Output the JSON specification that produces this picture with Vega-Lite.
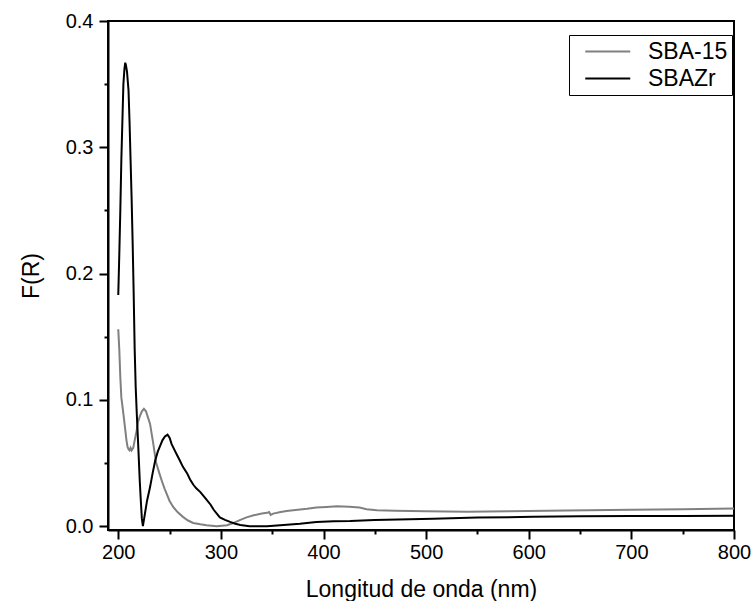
{
  "$schema": "https://vega.github.io/schema/vega-lite/v6.json",
  "width": 626,
  "height": 509,
  "autosize": {"type": "none"},
  "padding": {"left": 108, "top": 21, "right": 17, "bottom": 71},
  "background": "white",
  "config": {
    "font": "Liberation Sans",
    "view": {"stroke": "black", "strokeWidth": 2}
  },
  "data": {
    "values": [
      {"series": "SBA-15", "wl": 200, "fr": 0.156},
      {"series": "SBA-15", "wl": 201, "fr": 0.14},
      {"series": "SBA-15", "wl": 202, "fr": 0.118},
      {"series": "SBA-15", "wl": 203, "fr": 0.102},
      {"series": "SBA-15", "wl": 205, "fr": 0.089},
      {"series": "SBA-15", "wl": 207, "fr": 0.075},
      {"series": "SBA-15", "wl": 208, "fr": 0.068},
      {"series": "SBA-15", "wl": 209, "fr": 0.063},
      {"series": "SBA-15", "wl": 210, "fr": 0.061},
      {"series": "SBA-15", "wl": 211, "fr": 0.060},
      {"series": "SBA-15", "wl": 212, "fr": 0.062},
      {"series": "SBA-15", "wl": 213, "fr": 0.060},
      {"series": "SBA-15", "wl": 214.6, "fr": 0.062},
      {"series": "SBA-15", "wl": 216, "fr": 0.068},
      {"series": "SBA-15", "wl": 218, "fr": 0.076},
      {"series": "SBA-15", "wl": 219, "fr": 0.082},
      {"series": "SBA-15", "wl": 221, "fr": 0.087},
      {"series": "SBA-15", "wl": 223, "fr": 0.091},
      {"series": "SBA-15", "wl": 225, "fr": 0.093},
      {"series": "SBA-15", "wl": 227, "fr": 0.091},
      {"series": "SBA-15", "wl": 229, "fr": 0.086},
      {"series": "SBA-15", "wl": 231, "fr": 0.081},
      {"series": "SBA-15", "wl": 233, "fr": 0.071},
      {"series": "SBA-15", "wl": 234, "fr": 0.066},
      {"series": "SBA-15", "wl": 236, "fr": 0.055},
      {"series": "SBA-15", "wl": 237, "fr": 0.050},
      {"series": "SBA-15", "wl": 240, "fr": 0.042},
      {"series": "SBA-15", "wl": 242, "fr": 0.037},
      {"series": "SBA-15", "wl": 245, "fr": 0.030},
      {"series": "SBA-15", "wl": 247, "fr": 0.026},
      {"series": "SBA-15", "wl": 250, "fr": 0.020},
      {"series": "SBA-15", "wl": 253.7, "fr": 0.015},
      {"series": "SBA-15", "wl": 258, "fr": 0.011},
      {"series": "SBA-15", "wl": 263, "fr": 0.0074},
      {"series": "SBA-15", "wl": 268, "fr": 0.0045},
      {"series": "SBA-15", "wl": 273, "fr": 0.0026},
      {"series": "SBA-15", "wl": 280, "fr": 0.0015},
      {"series": "SBA-15", "wl": 286, "fr": 0.0008},
      {"series": "SBA-15", "wl": 296, "fr": 0.0},
      {"series": "SBA-15", "wl": 306, "fr": 0.0008},
      {"series": "SBA-15", "wl": 312, "fr": 0.0025},
      {"series": "SBA-15", "wl": 319, "fr": 0.005},
      {"series": "SBA-15", "wl": 325, "fr": 0.007},
      {"series": "SBA-15", "wl": 332, "fr": 0.0087},
      {"series": "SBA-15", "wl": 340, "fr": 0.0100},
      {"series": "SBA-15", "wl": 345, "fr": 0.0106},
      {"series": "SBA-15", "wl": 347, "fr": 0.0112},
      {"series": "SBA-15", "wl": 348.5, "fr": 0.0090},
      {"series": "SBA-15", "wl": 351, "fr": 0.0100},
      {"series": "SBA-15", "wl": 357, "fr": 0.011},
      {"series": "SBA-15", "wl": 364, "fr": 0.012},
      {"series": "SBA-15", "wl": 375, "fr": 0.013},
      {"series": "SBA-15", "wl": 384, "fr": 0.0138},
      {"series": "SBA-15", "wl": 393, "fr": 0.0148},
      {"series": "SBA-15", "wl": 403, "fr": 0.0153},
      {"series": "SBA-15", "wl": 413, "fr": 0.0158},
      {"series": "SBA-15", "wl": 425, "fr": 0.0155},
      {"series": "SBA-15", "wl": 435, "fr": 0.0148},
      {"series": "SBA-15", "wl": 442, "fr": 0.0135},
      {"series": "SBA-15", "wl": 452, "fr": 0.0127},
      {"series": "SBA-15", "wl": 470, "fr": 0.0122},
      {"series": "SBA-15", "wl": 500, "fr": 0.0118},
      {"series": "SBA-15", "wl": 540, "fr": 0.0114},
      {"series": "SBA-15", "wl": 580, "fr": 0.0118},
      {"series": "SBA-15", "wl": 637, "fr": 0.0125},
      {"series": "SBA-15", "wl": 700, "fr": 0.013},
      {"series": "SBA-15", "wl": 750, "fr": 0.0135},
      {"series": "SBA-15", "wl": 800, "fr": 0.014},
      {"series": "SBAZr", "wl": 200, "fr": 0.183},
      {"series": "SBAZr", "wl": 201, "fr": 0.215},
      {"series": "SBAZr", "wl": 202, "fr": 0.25},
      {"series": "SBAZr", "wl": 203, "fr": 0.29},
      {"series": "SBAZr", "wl": 204, "fr": 0.32},
      {"series": "SBAZr", "wl": 204.5, "fr": 0.335},
      {"series": "SBAZr", "wl": 205, "fr": 0.350},
      {"series": "SBAZr", "wl": 206, "fr": 0.362},
      {"series": "SBAZr", "wl": 206.8, "fr": 0.367},
      {"series": "SBAZr", "wl": 207.5, "fr": 0.365},
      {"series": "SBAZr", "wl": 208.5, "fr": 0.360},
      {"series": "SBAZr", "wl": 210, "fr": 0.345},
      {"series": "SBAZr", "wl": 211, "fr": 0.32},
      {"series": "SBAZr", "wl": 212, "fr": 0.29},
      {"series": "SBAZr", "wl": 213, "fr": 0.26},
      {"series": "SBAZr", "wl": 214, "fr": 0.225},
      {"series": "SBAZr", "wl": 215, "fr": 0.185},
      {"series": "SBAZr", "wl": 216, "fr": 0.14},
      {"series": "SBAZr", "wl": 217, "fr": 0.11},
      {"series": "SBAZr", "wl": 218, "fr": 0.09},
      {"series": "SBAZr", "wl": 219.5, "fr": 0.063},
      {"series": "SBAZr", "wl": 221, "fr": 0.035},
      {"series": "SBAZr", "wl": 222, "fr": 0.02},
      {"series": "SBAZr", "wl": 223, "fr": 0.006},
      {"series": "SBAZr", "wl": 224, "fr": 0.0},
      {"series": "SBAZr", "wl": 226, "fr": 0.01},
      {"series": "SBAZr", "wl": 228, "fr": 0.02},
      {"series": "SBAZr", "wl": 231, "fr": 0.031},
      {"series": "SBAZr", "wl": 233.5, "fr": 0.042},
      {"series": "SBAZr", "wl": 236, "fr": 0.052},
      {"series": "SBAZr", "wl": 238.5, "fr": 0.059},
      {"series": "SBAZr", "wl": 241, "fr": 0.064},
      {"series": "SBAZr", "wl": 243, "fr": 0.068},
      {"series": "SBAZr", "wl": 245.5, "fr": 0.071},
      {"series": "SBAZr", "wl": 248, "fr": 0.0725},
      {"series": "SBAZr", "wl": 250, "fr": 0.070},
      {"series": "SBAZr", "wl": 252, "fr": 0.065},
      {"series": "SBAZr", "wl": 255, "fr": 0.060},
      {"series": "SBAZr", "wl": 257.5, "fr": 0.056},
      {"series": "SBAZr", "wl": 260, "fr": 0.052},
      {"series": "SBAZr", "wl": 263, "fr": 0.047},
      {"series": "SBAZr", "wl": 267, "fr": 0.042},
      {"series": "SBAZr", "wl": 270, "fr": 0.037},
      {"series": "SBAZr", "wl": 273, "fr": 0.033},
      {"series": "SBAZr", "wl": 276, "fr": 0.030},
      {"series": "SBAZr", "wl": 280, "fr": 0.027},
      {"series": "SBAZr", "wl": 283, "fr": 0.024},
      {"series": "SBAZr", "wl": 286, "fr": 0.021},
      {"series": "SBAZr", "wl": 290, "fr": 0.017},
      {"series": "SBAZr", "wl": 293, "fr": 0.013},
      {"series": "SBAZr", "wl": 296, "fr": 0.010},
      {"series": "SBAZr", "wl": 299, "fr": 0.007},
      {"series": "SBAZr", "wl": 304, "fr": 0.005},
      {"series": "SBAZr", "wl": 309, "fr": 0.0034},
      {"series": "SBAZr", "wl": 314, "fr": 0.002},
      {"series": "SBAZr", "wl": 319, "fr": 0.001},
      {"series": "SBAZr", "wl": 328, "fr": 0.0},
      {"series": "SBAZr", "wl": 345, "fr": 0.0},
      {"series": "SBAZr", "wl": 361, "fr": 0.001},
      {"series": "SBAZr", "wl": 377, "fr": 0.002},
      {"series": "SBAZr", "wl": 393, "fr": 0.0034},
      {"series": "SBAZr", "wl": 410, "fr": 0.004},
      {"series": "SBAZr", "wl": 426, "fr": 0.0042},
      {"series": "SBAZr", "wl": 450, "fr": 0.005},
      {"series": "SBAZr", "wl": 507, "fr": 0.006},
      {"series": "SBAZr", "wl": 550, "fr": 0.0068},
      {"series": "SBAZr", "wl": 604, "fr": 0.0074},
      {"series": "SBAZr", "wl": 650, "fr": 0.0078},
      {"series": "SBAZr", "wl": 700, "fr": 0.008},
      {"series": "SBAZr", "wl": 750, "fr": 0.0081},
      {"series": "SBAZr", "wl": 800, "fr": 0.0082}
    ]
  },
  "mark": {"type": "line", "strokeWidth": 2, "clip": true},
  "encoding": {
    "x": {
      "field": "wl",
      "type": "quantitative",
      "scale": {"domain": [190, 800], "nice": false, "zero": false},
      "axis": {
        "title": "Longitud de onda (nm)",
        "values": [200, 250, 300, 350, 400, 450, 500, 550, 600, 650, 700, 750, 800],
        "labelExpr": "datum.value % 100 == 0 ? datum.label : ''",
        "format": "d",
        "grid": false,
        "domainColor": "black",
        "domainWidth": 2,
        "tickColor": "black",
        "tickWidth": 2,
        "tickSize": {"condition": {"test": "datum.value % 100 != 0", "value": 4}, "value": 9},
        "labelFontSize": 20,
        "labelColor": "black",
        "labelPadding": 3,
        "labelFlush": false,
        "titleFontSize": 23,
        "titleFontWeight": "normal",
        "titleColor": "black",
        "titlePadding": 16
      }
    },
    "y": {
      "field": "fr",
      "type": "quantitative",
      "scale": {"domain": [-0.003, 0.4], "nice": false, "zero": false},
      "axis": {
        "title": "F(R)",
        "values": [0, 0.05, 0.1, 0.15, 0.2, 0.25, 0.3, 0.35, 0.4],
        "labelExpr": "abs(datum.value * 10 - round(datum.value * 10)) < 0.01 ? format(datum.value, '.1f') : ''",
        "grid": false,
        "domainColor": "black",
        "domainWidth": 2,
        "tickColor": "black",
        "tickWidth": 2,
        "tickSize": {"condition": {"test": "abs(datum.value * 10 - round(datum.value * 10)) > 0.01", "value": 4}, "value": 9},
        "labelFontSize": 20,
        "labelColor": "black",
        "labelPadding": 6,
        "labelFlush": false,
        "titleFontSize": 23,
        "titleFontWeight": "normal",
        "titleColor": "black",
        "titlePadding": 22
      }
    },
    "color": {
      "field": "series",
      "type": "nominal",
      "scale": {"domain": ["SBA-15", "SBAZr"], "range": ["#808080", "#000000"]},
      "legend": {
        "title": null,
        "orient": "none",
        "legendX": 461,
        "legendY": 14,
        "symbolType": "M-1,0H3",
        "symbolSize": 506,
        "symbolStrokeWidth": 2,
        "symbolFillColor": "transparent",
        "symbolOffset": 11,
        "labelFontSize": 23,
        "labelColor": "black",
        "labelOffset": 39,
        "strokeColor": "black",
        "padding": 4,
        "rowPadding": 2,
        "fillColor": "white"
      }
    }
  }
}
